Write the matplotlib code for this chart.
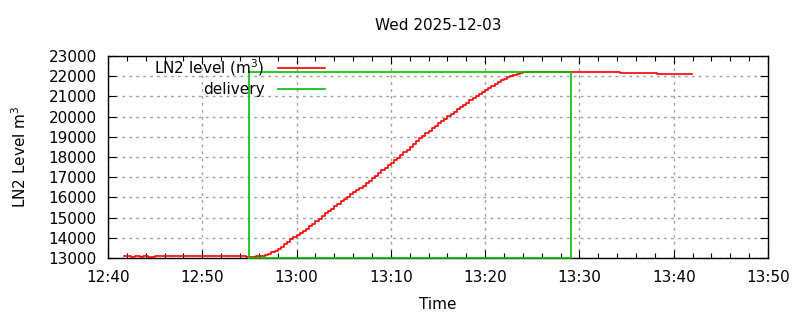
import numpy as np
import pandas as pd
import matplotlib
matplotlib.use('Agg')
import matplotlib.pyplot as plt
import matplotlib.dates as mdates

#-------------------------   Data   -------------------------------------------

day = '2025-12-03 '

#Level before delivery (irregular samples)
early_t = ['12:41:42', '12:42:26', '12:42:52', '12:43:23', '12:43:43',
           '12:44:14', '12:45:00', '12:54:38']
early_v = [13100, 13065, 13100, 13065, 13100, 13065, 13100, 13045]

#Level while filling (sampled every 20 s)
fill_start = '12:55:40'
fill_v = [13080, 13080, 13100, 13130, 13200, 13280, 13360, 13450, 13550, 13670,
          13800, 13930, 14040, 14150, 14230, 14350, 14450, 14560, 14690, 14810,
          14930, 15060, 15200, 15320, 15440, 15560, 15680, 15800, 15920, 16040,
          16150, 16260, 16370, 16470, 16580, 16690, 16810, 16940, 17080, 17210,
          17340, 17460, 17590, 17710, 17840, 17960, 18090, 18230, 18360, 18500,
          18640, 18780, 18920, 19060, 19180, 19300, 19420, 19540, 19660, 19780,
          19900, 20020, 20140, 20250, 20360, 20470, 20580, 20690, 20800, 20900,
          21000, 21100, 21200, 21300, 21400, 21500, 21600, 21700, 21790, 21870,
          21940, 22010, 22070, 22110, 22150, 22200]

#Level after delivery
late_t = ['13:34:18', '13:38:12', '13:41:56']
late_v = [22150, 22100, 22100]

#Delivery window
deliv_t = ['12:55:00', '12:55:00', '13:29:06', '13:29:06', '12:55:00']
deliv_v = [13000, 22200, 22200, 13000, 13000]

title = 'Wed 2025-12-03'

#-------------------------   Build series   -----------------------------------

t_early = pd.to_datetime([day + t for t in early_t])
t_fill = pd.date_range(day + fill_start, periods=len(fill_v), freq='20s')
t_late = pd.to_datetime([day + t for t in late_t])
level_t = list(t_early) + list(t_fill) + list(t_late)
level_v = early_v + fill_v + late_v

t_deliv = pd.to_datetime([day + t for t in deliv_t])

#-------------------------   Plot   -------------------------------------------

fsize = 11
plt.rcParams['font.family'] = 'DejaVu Sans'

fig = plt.figure(figsize=(8, 3.2), dpi=100)
ax = fig.add_axes([0.135, 0.194, 0.825, 0.631])

ax.plot(level_t, level_v, color='#ff0000', lw=1.2, drawstyle='steps-post',
        label='LN2 level (m$^3$)', zorder=3)
ax.plot(t_deliv, deliv_v, color='#00c000', lw=1.2, label='delivery',
        zorder=4, clip_on=False)

ax.set_xlim(pd.Timestamp(day + '12:40'), pd.Timestamp(day + '13:50'))
ax.set_ylim(13000, 23000)
ax.set_yticks(np.arange(13000, 23001, 1000))
ax.xaxis.set_major_locator(mdates.MinuteLocator(byminute=range(0, 60, 10)))
ax.xaxis.set_minor_locator(mdates.MinuteLocator(byminute=range(0, 60, 2)))
ax.xaxis.set_major_formatter(mdates.DateFormatter('%H:%M'))

ax.grid(True, which='major', color='#a0a0a0', lw=1.0, linestyle=(0, (2, 3)))
ax.set_axisbelow(True)
ax.tick_params(which='both', direction='in', top=True, right=True,
               labelsize=fsize, color='black')
ax.tick_params(which='major', length=6, width=0.8)
ax.tick_params(which='minor', length=3.5, width=0.8)
ax.tick_params(axis='x', pad=9)
ax.tick_params(axis='y', pad=8)
for s in ax.spines.values():
    s.set_linewidth(1.0)

ax.set_xlabel('Time', fontsize=fsize, labelpad=8)
ax.set_ylabel('LN2 Level m$^3$', fontsize=fsize, labelpad=14)
ax.set_title(title, fontsize=fsize, pad=19)

ax.legend(loc='upper right', bbox_to_anchor=(0.329, 0.995), frameon=False,
          markerfirst=False, fontsize=fsize, handlelength=3.1,
          handletextpad=0.85, borderpad=0.0, borderaxespad=0.0,
          labelspacing=0.3)

plt.savefig('out.png', dpi=100)
